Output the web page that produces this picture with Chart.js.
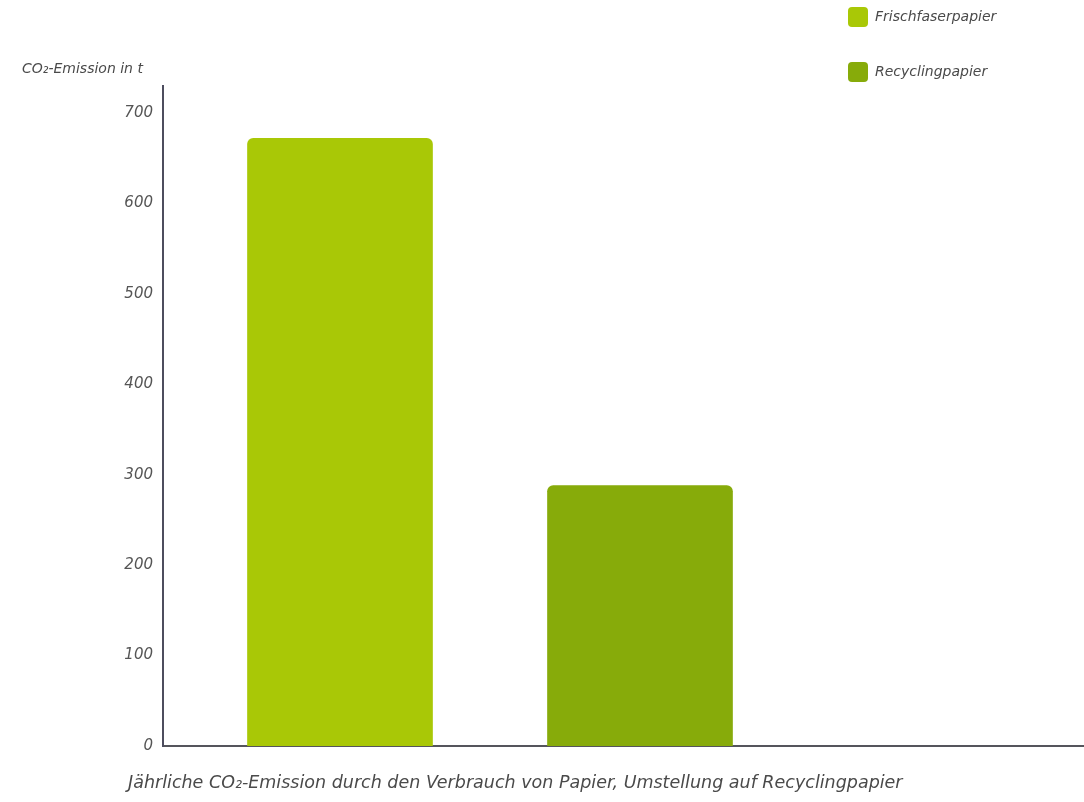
<!DOCTYPE html>
<html lang="de">
<head>
<meta charset="utf-8">
<title>CO2-Emission Papier</title>
<script src="https://cdn.jsdelivr.net/npm/chart.js@4.4.1/dist/chart.umd.min.js"></script>
<style>
  html, body { margin: 0; padding: 0; background: #fff; }
  #wrap { width: 1084px; height: 802px; position: relative; }
</style>
</head>
<body>
<div id="wrap"><canvas id="co2Chart"></canvas></div>
<script>
// values
const seriesNames = ['Frischfaserpapier', 'Recyclingpapier'];
const seriesValues = [672, 288];
const seriesSlots = [0, 1];            // position of each bar on the x axis
const barColors = ['#a9c806', '#87ab0a'];
const yTicks = [0, 100, 200, 300, 400, 500, 600, 700];
const yAxisLabel = 'CO₂-Emission in t';
const caption = 'Jährliche CO₂-Emission durch den Verbrauch von Papier, Umstellung auf Recyclingpapier';

const fontFamily = "'DejaVu Sans', 'Liberation Sans', sans-serif";
const textColor = '#4a4a4a';

// legend sits in the top right corner, caption is left aligned under the axis
const placeBoxes = {
    id: 'placeBoxes',
    afterLayout(chart) {
        const lg = chart.legend;
        if (lg) {
            lg.left = 813;
            lg.top = -28;
            lg.right = lg.left + lg.width;
            lg.bottom = lg.top + lg.height;
        }
        if (chart.titleBlock) {
            chart.titleBlock.left = 128;
        }
    }
};

const ctx = document.getElementById('co2Chart').getContext('2d');
new Chart(ctx, {
    type: 'bar',
    data: {
        datasets: seriesNames.map((name, i) => ({
            label: name,
            data: [{ x: seriesSlots[i], y: seriesValues[i] }],
            backgroundColor: barColors[i],
            borderRadius: 6,
            borderSkipped: 'start',
            barThickness: 185,
            grouped: false
        }))
    },
    options: {
        responsive: true,
        maintainAspectRatio: false,
        animation: false,
        layout: {
            padding: { left: 22, top: 0, right: 0, bottom: 0 }
        },
        plugins: {
            legend: {
                position: 'chartArea',
                align: 'start',
                labels: {
                    boxWidth: 20,
                    boxHeight: 20,
                    padding: 35,
                    useBorderRadius: true,
                    borderRadius: 4,
                    color: textColor,
                    font: { family: fontFamily, size: 14, style: 'italic' }
                }
            },
            subtitle: {
                display: true,
                text: yAxisLabel,
                position: 'top',
                align: 'start',
                color: textColor,
                font: { family: fontFamily, size: 14, style: 'italic' },
                padding: { top: 61, bottom: 8 }
            },
            title: {
                display: true,
                text: caption,
                position: 'bottom',
                align: 'start',
                color: textColor,
                font: { family: fontFamily, size: 17.5, style: 'italic', weight: 'normal' },
                padding: { top: 27, bottom: 8 }
            },
            tooltip: { enabled: true }
        },
        scales: {
            x: {
                type: 'linear',
                min: -0.59,
                max: 2.48,
                offset: false,
                grid: { display: false, drawTicks: false },
                ticks: { display: false },
                border: { display: true, color: '#55555c', width: 2 }
            },
            y: {
                min: 0,
                max: 730,
                afterBuildTicks(scale) {
                    scale.ticks = yTicks.map(v => ({ value: v }));
                },
                afterFit(scale) {
                    scale.width = 141;
                },
                grid: { display: false, drawTicks: false },
                border: { display: true, color: '#4d4d5e', width: 2 },
                ticks: {
                    padding: 10,
                    color: '#555',
                    font: { family: fontFamily, size: 15, style: 'italic' }
                }
            }
        }
    },
    plugins: [placeBoxes]
});
</script>
</body>
</html>
